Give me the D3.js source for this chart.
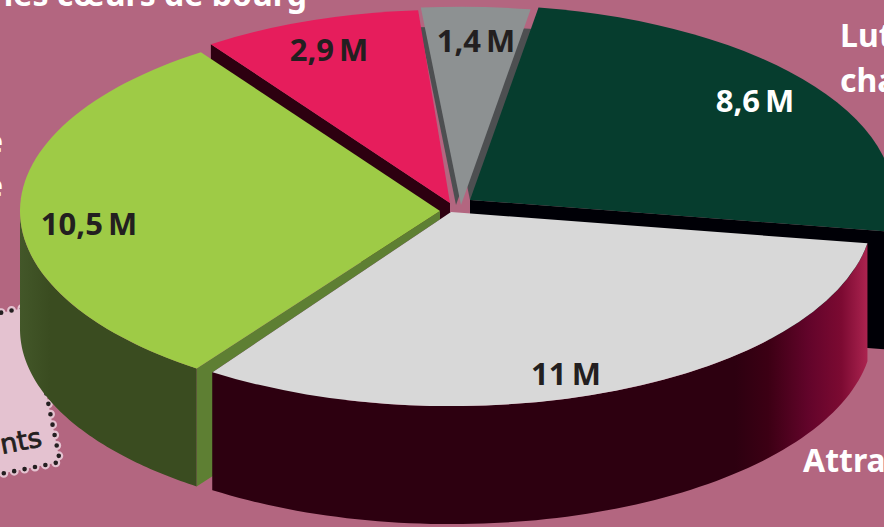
<!DOCTYPE html>
<html>
<head>
<meta charset="utf-8">
<script src="https://cdn.jsdelivr.net/npm/d3@7"></script>
<style>
  html, body { margin: 0; padding: 0; background: #b36680; overflow: hidden; }
  text { font-family: "Noto Sans", sans-serif; font-weight: 700; }
</style>
</head>
<body>
<div id="d3"></div>
<script>
// millions, clockwise from the dark green slice
const values = [8.6, 11, 10.5, 2.9, 1.4];
const valueLabels = ["8,6 M", "11 M", "10,5 M", "2,9 M", "1,4 M"];

const width = 884;
const height = 527;
const tilt = 0.46;
const depth = 118;
const startAngle = (9.3 * Math.PI) / 180;
const toRad = Math.PI / 180;

// each slice is pulled out of the pie, so each has its own apex.
// radius and turn (degrees) fake the perspective of the original picture
const apexes = [[470, 200], [451, 212], [440, 211], [450, 203], [461, 205]];
const radii = [424, 422, 420, 420, 431];
const turns = [0, 0, 1, 1, 0];
const labelPos = [[755, 112], [566, 385], [89, 235], [329, 61], [476, 52]];
const topColors = ["#063d2e", "#d8d8d8", "#9ecb46", "#e61d5c", "#8d9192"];
const labelColors = ["#ffffff", "#231f20", "#231f20", "#231f20", "#231f20"];

const svg = d3
  .select("#d3")
  .append("svg")
  .attr("width", width)
  .attr("height", height)
  .style("display", "block");

const defs = svg.append("defs");

function addGradient(id, x1, x2, stops) {
  const g = defs
    .append("linearGradient")
    .attr("id", id)
    .attr("gradientUnits", "userSpaceOnUse")
    .attr("x1", x1)
    .attr("x2", x2)
    .attr("y1", 0)
    .attr("y2", 0);
  stops.forEach((s) => g.append("stop").attr("offset", s[0]).attr("stop-color", s[1]));
}

addGradient("wallWhite", 735, 868, [
  [0, "#2d0010"],
  [0.25, "#3c0014"],
  [0.55, "#62042a"],
  [0.8, "#7c0a32"],
  [1, "#ac2450"],
]);
addGradient("wallGreen", 20, 50, [
  [0, "#435729"],
  [1, "#3a4c20"],
]);

// note sitting behind the pie, bottom left
const note = svg.append("g");
const noteShape = "M-30,319L29,307L60,462L-30,480";
note.append("path").attr("d", noteShape + "Z").attr("fill", "#e4c2d0");
note
  .append("path")
  .attr("d", noteShape)
  .attr("fill", "none")
  .attr("stroke", "#e4c2d0")
  .attr("stroke-width", 9)
  .attr("stroke-linecap", "round")
  .attr("stroke-dasharray", "0 10.6");
note
  .append("path")
  .attr("d", noteShape)
  .attr("fill", "none")
  .attr("stroke", "#231f20")
  .attr("stroke-width", 4.6)
  .attr("stroke-linecap", "round")
  .attr("stroke-dasharray", "0 10.6");
note
  .append("text")
  .attr("transform", "translate(43,446) rotate(-11)")
  .attr("text-anchor", "end")
  .style("font-family", "'DejaVu Sans', sans-serif")
  .style("font-weight", 400)
  .style("font-size", "27px")
  .attr("fill", "#231f20")
  .attr("stroke", "#231f20")
  .attr("stroke-width", 0.8)
  .text("nts");

const slices = d3
  .pie()
  .sort(null)
  .startAngle(startAngle)
  .endAngle(startAngle + 2 * Math.PI)(values)
  .map((d, i) => ({
    startAngle: d.startAngle + turns[i] * toRad,
    endAngle: d.endAngle + turns[i] * toRad,
  }));

const arc = d3.arc().innerRadius(0);
const line = d3.line();

function project(i, angle, drop) {
  return [
    apexes[i][0] + radii[i] * Math.sin(angle),
    apexes[i][1] - radii[i] * tilt * Math.cos(angle) + drop,
  ];
}

// rim of a slice between two angles, only the half that faces the viewer
function outerWall(i, fill) {
  const from = Math.max(slices[i].startAngle, Math.PI / 2);
  const to = Math.min(slices[i].endAngle, (3 * Math.PI) / 2);
  const angles = d3.range(0, 81).map((k) => from + ((to - from) * k) / 80);
  const points = angles
    .map((a) => project(i, a, 0))
    .concat(angles.slice().reverse().map((a) => project(i, a, depth)));
  svg.append("path").attr("d", line(points) + "Z").attr("fill", fill);
}

// straight cut side of a slice
function cutWall(i, angle, fill) {
  const apex = apexes[i];
  const points = [
    apex,
    project(i, angle, 0),
    project(i, angle, depth),
    [apex[0], apex[1] + depth],
  ];
  svg.append("path").attr("d", line(points) + "Z").attr("fill", fill);
}

function topFace(i, r, fill, dx) {
  return svg
    .append("path")
    .attr("d", arc({ startAngle: slices[i].startAngle, endAngle: slices[i].endAngle, outerRadius: r }))
    .attr("transform", `translate(${apexes[i][0] + dx},${apexes[i][1]}) scale(1,${tilt})`)
    .attr("fill", fill);
}

function face(i) {
  return topFace(i, radii[i], topColors[i], 0);
}

// grey slice first, two shifted copies make the darker bevel along its cuts,
// the neighbours drawn after it hide what sticks out
topFace(4, radii[4] * 0.9, "#4d4f51", -5);
topFace(4, radii[4] * 0.9, "#4d4f51", 10);
face(4);

cutWall(3, slices[3].startAngle, "#2d0010");
face(3);

outerWall(0, "#000006");
cutWall(0, slices[0].endAngle, "#000006");
face(0);

cutWall(2, slices[2].startAngle, "#5e7f33");
outerWall(2, "url(#wallGreen)");
face(2);

cutWall(1, slices[1].endAngle, "#2d0010");
outerWall(1, "url(#wallWhite)");
face(1);

svg
  .selectAll(".value")
  .data(valueLabels)
  .enter()
  .append("text")
  .attr("class", "value")
  .attr("x", (d, i) => labelPos[i][0])
  .attr("y", (d, i) => labelPos[i][1])
  .attr("text-anchor", "middle")
  .attr("fill", (d, i) => labelColors[i])
  .attr("word-spacing", -3)
  .style("font-size", "31px")
  .text((d) => d);

// category names, cut by the edge of the picture
const nameText = ["les cœurs de bourg", "Lut", "cha", "Attra", "e", "e"];
const nameX = [307, 840, 840, 803, 3, 3];
const nameY = [6, 47, 92, 472, 153, 197];
const nameAnchor = ["end", "start", "start", "start", "end", "end"];

svg
  .selectAll(".name")
  .data(nameText)
  .enter()
  .append("text")
  .attr("class", "name")
  .attr("x", (d, i) => nameX[i])
  .attr("y", (d, i) => nameY[i])
  .attr("text-anchor", (d, i) => nameAnchor[i])
  .attr("fill", "#ffffff")
  .style("font-size", "32px")
  .text((d) => d);
</script>
</body>
</html>
